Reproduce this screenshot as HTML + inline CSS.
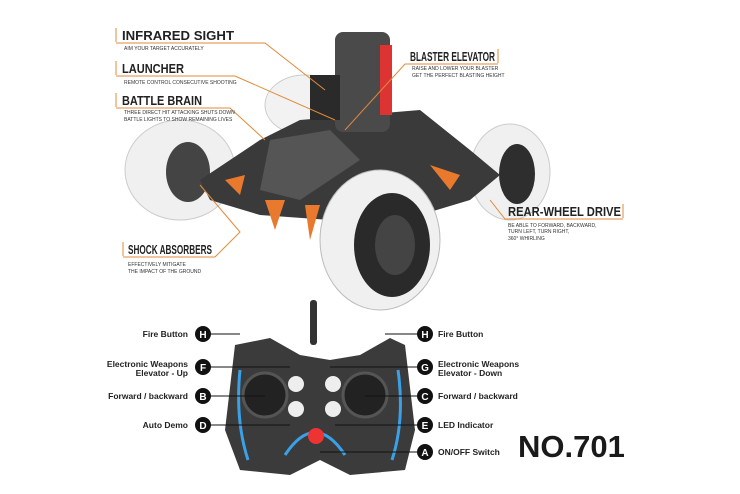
<!DOCTYPE html>
<html><head><style>
body{margin:0;background:#fff}
svg{display:block}
.t{font-family:"Liberation Sans",sans-serif;font-weight:bold;fill:#1a1a1a}
.h{font-family:"Liberation Sans Narrow","Liberation Sans",sans-serif;font-weight:bold;font-size:13px;fill:#222}
.s{font-family:"Liberation Sans",sans-serif;font-size:5px;fill:#333}
.r{font-family:"Liberation Sans",sans-serif;font-weight:bold;font-size:8.5px;fill:#222}
.o{stroke:#e08a3a;stroke-width:1;fill:none}
</style></head><body>
<svg width="740" height="494" viewBox="0 0 740 494">
<!-- car -->
<ellipse cx="305" cy="105" rx="40" ry="30" fill="#f2f2f2" stroke="#ccc"/>
<ellipse cx="180" cy="170" rx="55" ry="50" fill="#f0f0f0" stroke="#ccc"/>
<ellipse cx="188" cy="172" rx="22" ry="30" fill="#444"/>
<ellipse cx="510" cy="172" rx="40" ry="48" fill="#f0f0f0" stroke="#ccc"/>
<ellipse cx="517" cy="174" rx="18" ry="30" fill="#2e2e2e"/>
<path d="M200 180 L260 140 L300 120 L420 110 L470 150 L500 175 L470 200 L420 215 L330 220 L260 215 L210 200 Z" fill="#3a3a3a"/>
<path d="M270 140 L330 130 L360 160 L300 200 L260 190 Z" fill="#555"/>
<rect x="335" y="32" width="55" height="100" rx="8" fill="#4a4a4a"/>
<rect x="380" y="45" width="12" height="70" fill="#d33"/>
<rect x="310" y="75" width="30" height="45" fill="#2a2a2a"/>
<path d="M265 200 L275 230 L285 200 Z M305 205 L310 240 L320 205 Z" fill="#e9792c"/>
<path d="M430 165 L460 175 L450 190 Z M225 180 L245 175 L240 195Z" fill="#e9792c"/>
<ellipse cx="380" cy="240" rx="60" ry="70" fill="#f0f0f0" stroke="#bbb"/>
<ellipse cx="392" cy="245" rx="38" ry="52" fill="#2a2a2a"/>
<ellipse cx="395" cy="245" rx="20" ry="30" fill="#444"/>
<!-- labels -->
<path class="o" d="M116 28V42 M116 43H265L325 90"/>
<text class="h" x="122" y="40" textLength="112" lengthAdjust="spacingAndGlyphs">INFRARED SIGHT</text>
<text class="s" x="124" y="50">AIM YOUR TARGET ACCURATELY</text>
<path class="o" d="M116 61V75 M116 76H235L335 120"/>
<text class="h" x="122" y="73" textLength="62" lengthAdjust="spacingAndGlyphs">LAUNCHER</text>
<text class="s" x="124" y="84">REMOTE CONTROL CONSECUTIVE SHOOTING</text>
<path class="o" d="M116 93V107 M116 108H230L265 140"/>
<text class="h" x="122" y="105" textLength="80" lengthAdjust="spacingAndGlyphs">BATTLE BRAIN</text>
<text class="s" x="124" y="114">THREE DIRECT HIT ATTACKING SHUTS DOWN</text>
<text class="s" x="124" y="121">BATTLE LIGHTS TO SHOW REMAINING LIVES</text>
<path class="o" d="M498 49V63 M498 64H405L345 130"/>
<text class="h" x="410" y="61" textLength="85" lengthAdjust="spacingAndGlyphs">BLASTER ELEVATOR</text>
<text class="s" x="412" y="70">RAISE AND LOWER YOUR BLASTER</text>
<text class="s" x="412" y="77">GET THE PERFECT BLASTING HEIGHT</text>
<path class="o" d="M623 204V218 M623 219H505L490 200"/>
<text class="h" x="508" y="216" textLength="113" lengthAdjust="spacingAndGlyphs">REAR-WHEEL DRIVE</text>
<text class="s" x="508" y="227">BE ABLE TO FORWARD, BACKWARD,</text>
<text class="s" x="508" y="233">TURN LEFT, TURN RIGHT,</text>
<text class="s" x="508" y="240">360° WHIRLING</text>
<path class="o" d="M123 242V256 M123 257H215L240 232L200 185"/>
<text class="h" x="128" y="254" textLength="84" lengthAdjust="spacingAndGlyphs">SHOCK ABSORBERS</text>
<text class="s" x="128" y="266">EFFECTIVELY MITIGATE</text>
<text class="s" x="128" y="273">THE IMPACT OF THE GROUND</text>
<!-- remote -->
<rect x="310" y="300" width="7" height="45" rx="3" fill="#333"/>
<path d="M235 345 L270 338 L300 355 L330 360 L360 355 L390 338 L405 345 L415 430 L405 470 L350 475 L320 460 L290 475 L240 470 L225 430 Z" fill="#3b3b3b"/>
<path d="M240 370 Q235 420 248 460 M398 370 Q405 420 392 460" stroke="#3aa0e8" stroke-width="3" fill="none"/>
<circle cx="265" cy="395" r="22" fill="#222" stroke="#555" stroke-width="3"/>
<circle cx="365" cy="395" r="22" fill="#222" stroke="#555" stroke-width="3"/>
<circle cx="296" cy="384" r="8" fill="#eee"/><circle cx="333" cy="384" r="8" fill="#eee"/>
<circle cx="296" cy="409" r="8" fill="#eee"/><circle cx="333" cy="409" r="8" fill="#eee"/>
<path d="M285 455 Q315 410 345 455" stroke="#3aa0e8" stroke-width="3" fill="none"/>
<circle cx="316" cy="436" r="8" fill="#e33"/>
<g stroke="#111" stroke-width="1" fill="none">
<path d="M210 334H240 M210 367H290 M210 396H265 M210 425H290 M418 334H385 M418 367H330 M418 396H365 M418 425H335 M418 452H320"/>
</g>
<g class="r">
<text x="188" y="337" text-anchor="end">Fire Button</text>
<text x="188" y="367" text-anchor="end">Electronic Weapons</text>
<text x="188" y="376" text-anchor="end">Elevator - Up</text>
<text x="188" y="399" text-anchor="end">Forward / backward</text>
<text x="188" y="428" text-anchor="end">Auto Demo</text>
<text x="438" y="337">Fire Button</text>
<text x="438" y="367">Electronic Weapons</text>
<text x="438" y="376">Elevator - Down</text>
<text x="438" y="399">Forward / backward</text>
<text x="438" y="428">LED Indicator</text>
<text x="438" y="455">ON/OFF Switch</text>
</g>
<g font-family="Liberation Sans,sans-serif" font-weight="bold" font-size="10" fill="#fff" text-anchor="middle">
<g fill="#111"><circle cx="203" cy="334" r="8"/><circle cx="203" cy="367" r="8"/><circle cx="203" cy="396" r="8"/><circle cx="203" cy="425" r="8"/>
<circle cx="425" cy="334" r="8"/><circle cx="425" cy="367" r="8"/><circle cx="425" cy="396" r="8"/><circle cx="425" cy="425" r="8"/><circle cx="425" cy="452" r="8"/></g>
<text x="203" y="338">H</text><text x="203" y="371">F</text><text x="203" y="400">B</text><text x="203" y="429">D</text>
<text x="425" y="338">H</text><text x="425" y="371">G</text><text x="425" y="400">C</text><text x="425" y="429">E</text><text x="425" y="456">A</text>
</g>
<text class="t" x="518" y="457" font-size="31">NO.701</text>
</svg>
</body></html>
